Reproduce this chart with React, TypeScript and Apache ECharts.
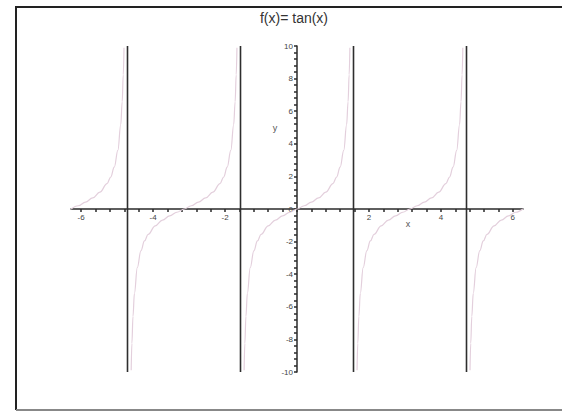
import React, { useEffect, useRef } from "react";
import * as echarts from "echarts";

const titleText = "f(x)= tan(x)";
const xLabelValues = [-6, -4, -2, 2, 4, 6];
const yLabelValues = [-10, -8, -6, -4, -2, 0, 2, 4, 6, 8, 10];
const xRange = [-6.2832, 6.2832];
const yRange = [-10, 10];
const asymptotes = [-4.7124, -1.5708, 1.5708, 4.7124];

// tan(x) branches (clipped at |y| = 10)
const branchA: number[][] = [
  [-6.28, 0], [-6.08, 0.2], [-5.88, 0.42], [-5.68, 0.68], [-5.48, 1.03], [-5.28, 1.56],
  [-5.18, 1.96], [-5.08, 2.57], [-4.98, 3.6], [-4.9, 5.18], [-4.86, 6.58], [-4.83, 8.24], [-4.81, 9.89],
];
const branchB: number[][] = [
  [-4.61, -9.89], [-4.59, -8.24], [-4.56, -6.58], [-4.52, -5.18], [-4.44, -3.6], [-4.34, -2.57],
  [-4.24, -1.96], [-4.14, -1.56], [-3.94, -1.03], [-3.74, -0.68], [-3.54, -0.42], [-3.34, -0.2],
  [-3.14, 0], [-2.94, 0.2], [-2.74, 0.42], [-2.54, 0.68], [-2.34, 1.03], [-2.14, 1.56],
  [-2.04, 1.96], [-1.94, 2.57], [-1.84, 3.6], [-1.76, 5.18], [-1.72, 6.58], [-1.69, 8.24], [-1.67, 9.89],
];
const branchC: number[][] = [
  [-1.47, -9.89], [-1.45, -8.24], [-1.42, -6.58], [-1.38, -5.18], [-1.3, -3.6], [-1.2, -2.57],
  [-1.1, -1.96], [-1.0, -1.56], [-0.8, -1.03], [-0.6, -0.68], [-0.4, -0.42], [-0.2, -0.2],
  [0, 0], [0.2, 0.2], [0.4, 0.42], [0.6, 0.68], [0.8, 1.03], [1.0, 1.56],
  [1.1, 1.96], [1.2, 2.57], [1.3, 3.6], [1.38, 5.18], [1.42, 6.58], [1.45, 8.24], [1.47, 9.89],
];
const branchD: number[][] = [
  [1.67, -9.89], [1.69, -8.24], [1.72, -6.58], [1.76, -5.18], [1.84, -3.6], [1.94, -2.57],
  [2.04, -1.96], [2.14, -1.56], [2.34, -1.03], [2.54, -0.68], [2.74, -0.42], [2.94, -0.2],
  [3.14, 0], [3.34, 0.2], [3.54, 0.42], [3.74, 0.68], [3.94, 1.03], [4.14, 1.56],
  [4.24, 1.96], [4.34, 2.57], [4.44, 3.6], [4.52, 5.18], [4.56, 6.58], [4.59, 8.24], [4.61, 9.89],
];
const branchE: number[][] = [
  [4.81, -9.89], [4.83, -8.24], [4.86, -6.58], [4.9, -5.18], [4.98, -3.6], [5.08, -2.57],
  [5.18, -1.96], [5.28, -1.56], [5.48, -1.03], [5.68, -0.68], [5.88, -0.42], [6.08, -0.2], [6.28, 0],
];
const branches = [branchA, branchB, branchC, branchD, branchE];

function steps(from: number, to: number, step: number): number[] {
  const out: number[] = [];
  const n = Math.round((to - from) / step);
  for (let i = 0; i <= n; i++) out.push(Math.round((from + i * step) * 1000) / 1000);
  return out;
}

const GRID = { left: 71, top: 46, width: 452, height: 326 };

export default function App() {
  const ref = useRef<HTMLDivElement>(null);
  useEffect(() => {
    if (!ref.current) return;
    const chart = echarts.init(ref.current, undefined, { renderer: "svg" });
    const curveColor = "#e3cfdc";
    const axisColor = "#2a2a2a";
    // pixel offsets so both axes cross at (0, 0)
    const xOffset = -GRID.height / 2;
    const yOffset = -GRID.width / 2;
    const series: any[] = branches.map((b) => ({
      type: "line",
      data: b,
      showSymbol: false,
      smooth: 0.4,
      smoothMonotone: "x",
      lineStyle: { color: curveColor, width: 1.2 },
      silent: true,
      clip: true,
      z: 2,
    }));
    asymptotes.forEach((a) => {
      series.push({
        type: "line",
        data: [[a, yRange[0]], [a, yRange[1]]],
        showSymbol: false,
        lineStyle: { color: "#2e2e2e", width: 1.6 },
        silent: true,
        z: 3,
      });
    });
    chart.setOption({
      animation: false,
      backgroundColor: "#ffffff",
      grid: { ...GRID, containLabel: false },
      xAxis: {
        type: "value",
        min: xRange[0],
        max: xRange[1],
        position: "bottom",
        offset: xOffset,
        splitLine: { show: false },
        axisLine: { onZero: false, lineStyle: { color: axisColor, width: 1.5 } },
        axisTick: {
          show: true,
          length: 3,
          customValues: steps(-6, 6, 0.4),
          lineStyle: { color: axisColor, width: 1.5 },
        },
        axisLabel: {
          customValues: xLabelValues,
          fontSize: 8,
          color: "#444",
          margin: 4,
          fontFamily: "Liberation Sans",
        },
      },
      yAxis: {
        type: "value",
        min: yRange[0],
        max: yRange[1],
        position: "left",
        offset: yOffset,
        splitLine: { show: false },
        axisLine: { onZero: false, lineStyle: { color: axisColor, width: 1.5 } },
        axisTick: {
          show: true,
          length: 3,
          customValues: steps(-10, 10, 0.4),
          lineStyle: { color: axisColor, width: 1.5 },
        },
        axisLabel: {
          customValues: yLabelValues,
          fontSize: 8,
          color: "#444",
          margin: 4,
          fontFamily: "Liberation Sans",
        },
      },
      graphic: [
        { type: "line", shape: { x1: 15, y1: 7, x2: 562, y2: 7 }, style: { stroke: "#222", lineWidth: 2 } },
        { type: "line", shape: { x1: 16, y1: 7, x2: 16, y2: 410 }, style: { stroke: "#222", lineWidth: 2 } },
        { type: "line", shape: { x1: 16, y1: 410, x2: 562, y2: 410 }, style: { stroke: "#888", lineWidth: 2 } },
        {
          type: "text",
          x: 294,
          y: 18,
          style: {
            text: titleText,
            fill: "#333",
            font: "14px 'Liberation Sans'",
            align: "center",
            verticalAlign: "middle",
          },
        },
        {
          type: "text",
          x: 408,
          y: 224,
          style: { text: "x", fill: "#555", font: "9px 'Liberation Sans'", align: "center", verticalAlign: "middle" },
        },
        {
          type: "text",
          x: 275,
          y: 128,
          style: { text: "y", fill: "#555", font: "9px 'Liberation Sans'", align: "center", verticalAlign: "middle" },
        },
      ],
      series,
    });
    return () => chart.dispose();
  }, []);
  return (
    <div
      ref={ref}
      style={{ position: "fixed", left: 0, top: 0, width: 562, height: 411, background: "#fff" }}
    />
  );
}
